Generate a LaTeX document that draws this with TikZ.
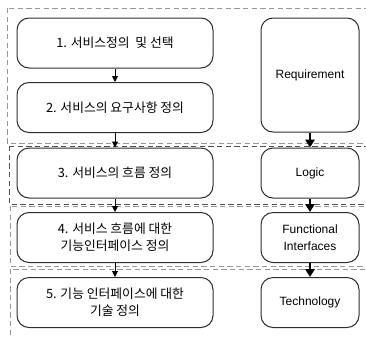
\documentclass[tikz,border=0pt]{standalone}
\usepackage{fontspec}
\setmainfont{Liberation Sans}
\newfontfamily\krfont{Noto Sans CJK KR}
\usetikzlibrary{arrows.meta}
\definecolor{lygray}{RGB}{150,150,150}
\definecolor{lydark}{RGB}{80,80,80}
\definecolor{boxline}{RGB}{45,45,45}

\begin{document}
\begin{tikzpicture}[x=0.75pt,y=-0.75pt,
  layer/.style={dash pattern=on 4pt off 2.5pt, line width=0.7pt},
  stepbox/.style={draw=boxline, line width=0.75pt, rounded corners=9pt, inner sep=0pt,
    minimum width=147pt, minimum height=37.5pt, align=center,
    font=\krfont\fontsize{9.6}{12.75}\selectfont},
  levelbox/.style={draw=boxline, line width=0.75pt, rounded corners=9pt, inner sep=0pt,
    minimum width=73.5pt, minimum height=37.5pt, align=center,
    font=\fontsize{9}{12.75}\selectfont},
  flow/.style={-{Triangle[length=4.5pt,width=4.5pt]}, line width=0.75pt},
  levelflow/.style={-{Triangle[length=6pt,width=7pt]}, line width=1.5pt}]
\useasboundingbox (0,0) rectangle (366,336);
\clip (0,0) rectangle (366,336);
% Layers (cut off at the right)
\draw[layer, lygray] (7,8) rectangle (400,143);
\draw[layer, lydark] (9,146) rectangle (400,204);
\draw[layer, lygray] (10,206) rectangle (400,266);
\draw[layer, lygray] (10,269) rectangle (400,360);
% Steps
\node[stepbox] (s1) at (115,43) {1. 서비스정의\ \ 및 선택};
\node[stepbox] (s2) at (115,107.5) {2. 서비스의 요구사항 정의};
\node[stepbox] (s3) at (115,173) {3. 서비스의 흐름 정의};
\node[stepbox] (s4) at (115,237.5) {4. 서비스 흐름에 대한\\기능인터페이스 정의};
\node[stepbox] (s5) at (115,302.5) {5. 기능 인터페이스에 대한\\기술 정의};
% Levels
\node[levelbox, minimum height=85.5pt] (req) at (310,75) {Requirement};
\node[levelbox] (logic) at (310,173) {Logic};
\node[levelbox] (func) at (310,237.5) {Functional\\Interfaces};
\node[levelbox] (tech) at (310,302.5) {Technology};
% Arrows
\foreach \a/\b in {s1/s2, s2/s3, s3/s4, s4/s5} {
  \draw[flow] (\a) -- (\b);
}
\foreach \a/\b in {req/logic, logic/func, func/tech} {
  \draw[levelflow] (\a) -- (\b);
}
\end{tikzpicture}
\end{document}
